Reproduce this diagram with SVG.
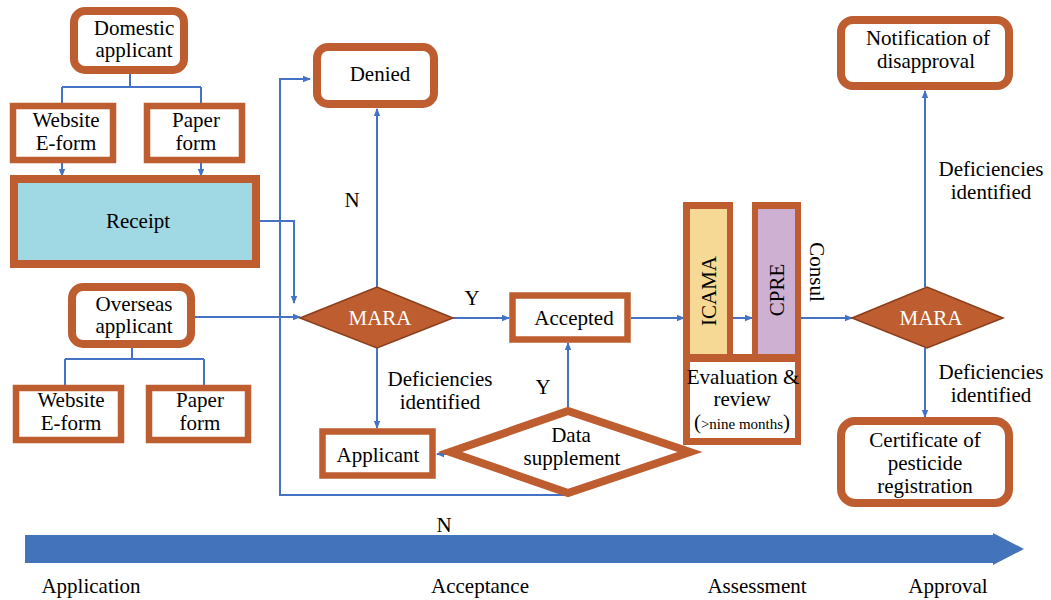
<svg xmlns="http://www.w3.org/2000/svg" width="1051" height="600" viewBox="0 0 1051 600" font-family="'Liberation Serif', 'Times New Roman', serif">
<defs>
<marker id="ah" markerUnits="userSpaceOnUse" markerWidth="8" markerHeight="8" viewBox="0 0 8 8" refX="7" refY="4" orient="auto">
<path d="M0,0.8 L8,4 L0,7.2 Z" fill="#4472C4"/>
</marker>
<style>
text{font-family:'Liberation Serif','Times New Roman',serif}
.t{font-size:21px;fill:#000;text-anchor:middle}
.w{fill:#fff}
.rr{fill:#fff;stroke:#BE5D2F;stroke-width:8}
.sq{fill:#fff;stroke:#BE5D2F;stroke-width:6.5}
.br{fill:#BE5D2F}
.dm{fill:#BE5D2F;stroke:#8A3E1C;stroke-width:1.5}
.c{fill:none;stroke:#4472C4;stroke-width:2}
.ca{fill:none;stroke:#4472C4;stroke-width:2;marker-end:url(#ah)}
</style>
</defs>
<rect width="1051" height="600" fill="#fff"/>

<g id="connectors">
<path class="c" d="M130,74 V87 M62,87 H201"/>
<path class="ca" d="M62,87 V176"/>
<path class="ca" d="M201,87 V176"/>
<path class="c" d="M132,348 V359 M65,359 H204 M65,359 V387 M204,359 V387"/>
<path class="ca" d="M258,221 H294 V303"/>
<path class="ca" d="M195,317 H300"/>
<path class="ca" d="M568,495 H280 V79 H310"/>
<path class="ca" d="M377,287 V109"/>
<path class="ca" d="M453,318 H509"/>
<path class="ca" d="M377,348 V428"/>
<path class="ca" d="M568,407 V343"/>
<path class="ca" d="M446,454 H437"/>
<path class="ca" d="M631,318 H684"/>
<path class="ca" d="M733,318 H752"/>
<path class="ca" d="M795,318 H852"/>
<path class="ca" d="M925,287 V91"/>
<path class="ca" d="M925,348 V417"/>
</g>

<g id="domestic-applicant">
<rect class="rr" x="74" y="11" width="110" height="59" rx="11"/>
<text class="t" x="134" y="35">Domestic</text>
<text class="t" x="134" y="57">applicant</text>
</g>
<g id="website-eform-1">
<rect class="sq" x="13" y="106" width="100" height="54"/>
<text class="t" x="66" y="127">Website</text>
<text class="t" x="66" y="150">E-form</text>
</g>
<g id="paper-form-1">
<rect class="sq" x="147" y="106" width="95" height="54"/>
<text class="t" x="196" y="127">Paper</text>
<text class="t" x="196" y="150">form</text>
</g>
<g id="receipt">
<rect x="14" y="179" width="242" height="85" fill="#A0D9E3" stroke="#BE5D2F" stroke-width="8"/>
<text class="t" x="138" y="228">Receipt</text>
</g>
<g id="overseas-applicant">
<rect class="rr" x="72" y="287" width="119" height="57" rx="11"/>
<text class="t" x="134" y="311">Overseas</text>
<text class="t" x="134" y="333">applicant</text>
</g>
<g id="website-eform-2">
<rect class="sq" x="16" y="388" width="105" height="52"/>
<text class="t" x="71" y="407">Website</text>
<text class="t" x="71" y="430">E-form</text>
</g>
<g id="paper-form-2">
<rect class="sq" x="149" y="388" width="99" height="52"/>
<text class="t" x="200" y="407">Paper</text>
<text class="t" x="200" y="430">form</text>
</g>

<g id="denied">
<rect class="rr" x="317" y="47" width="117" height="57" rx="11"/>
<text class="t" x="380" y="81">Denied</text>
</g>
<g id="mara-1">
<polygon class="dm" points="300,318 377,287 453,318 377,348"/>
<text class="t w" x="380" y="325">MARA</text>
</g>
<g id="accepted">
<rect class="sq" x="512.5" y="295.5" width="115" height="44"/>
<text class="t" x="574" y="325">Accepted</text>
</g>
<g id="applicant">
<rect class="sq" x="322.5" y="431.5" width="110" height="44"/>
<text class="t" x="378" y="462">Applicant</text>
</g>
<g id="data-supplement">
<polygon points="450,452 568,411 690,452 568,493" fill="#fff" stroke="#BE5D2F" stroke-width="8" stroke-linejoin="miter" stroke-miterlimit="10"/>
<text class="t" x="571" y="442">Data</text>
<text class="t" x="572" y="465">supplement</text>
</g>

<g id="evaluation">
<rect class="br" x="683" y="202" width="50" height="153"/>
<rect x="690" y="209" width="37" height="146" fill="#F5D994"/>
<rect class="br" x="752" y="202" width="49" height="153"/>
<rect x="758" y="209" width="37" height="146" fill="#CEB0D2"/>
<rect class="br" x="683" y="354" width="118" height="91"/>
<rect x="690" y="362" width="105" height="76" fill="#fff"/>
<text class="t" transform="translate(716,291) rotate(-90)">ICAMA</text>
<text class="t" transform="translate(784,290) rotate(-90)">CPRE</text>
<text class="t" x="743" y="384">Evaluation &amp;</text>
<text class="t" x="742" y="406">review</text>
<text class="t" x="742" y="429">(<tspan font-size="15">&gt;nine months</tspan>)</text>
</g>
<g id="consul-label">
<text class="t" transform="translate(810,272) rotate(90)">Consul</text>
</g>

<g id="mara-2">
<polygon class="dm" points="852,318 927,287 1003,318 927,348"/>
<text class="t w" x="931" y="325">MARA</text>
</g>
<g id="notification">
<rect class="rr" x="841" y="20" width="168" height="66" rx="12"/>
<text class="t" x="928" y="45">Notification of</text>
<text class="t" x="926" y="68">disapproval</text>
</g>
<g id="certificate">
<rect class="rr" x="841" y="421" width="168" height="82" rx="14"/>
<text class="t" x="925" y="447">Certificate of</text>
<text class="t" x="925" y="470">pesticide</text>
<text class="t" x="925" y="493">registration</text>
</g>

<g id="labels">
<text class="t" x="352" y="207">N</text>
<text class="t" x="472" y="305">Y</text>
<text class="t" x="440" y="386">Deficiencies</text>
<text class="t" x="440" y="409">identified</text>
<text class="t" x="543" y="394">Y</text>
<text class="t" x="444" y="532">N</text>
<text class="t" x="991" y="176">Deficiencies</text>
<text class="t" x="991" y="199">identified</text>
<text class="t" x="991" y="379">Deficiencies</text>
<text class="t" x="991" y="402">identified</text>
</g>

<g id="timeline">
<polygon points="25,535 993,535 993,533 1024,549 993,565 993,563 25,563" fill="#4373BA"/>
<text class="t" x="91" y="593" font-size="22">Application</text>
<text class="t" x="480" y="593">Acceptance</text>
<text class="t" x="757" y="593">Assessment</text>
<text class="t" x="948" y="593">Approval</text>
</g>
</svg>
